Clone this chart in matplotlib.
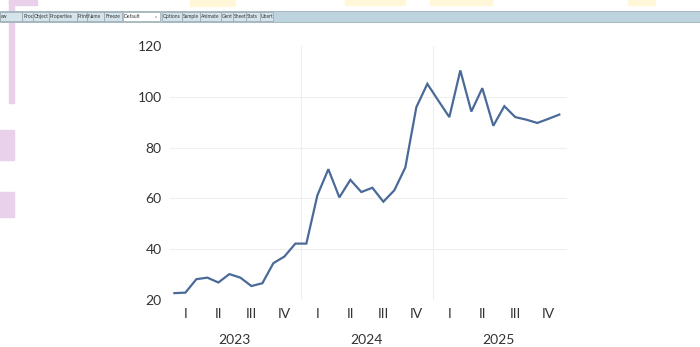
import matplotlib.pyplot as plt
import matplotlib.patches as mpatches
from matplotlib.transforms import blended_transform_factory

plt.rcParams['font.family'] = ['Lato', 'DejaVu Sans']

years = ['2023', '2024', '2025']
quarters = ['I', 'II', 'III', 'IV']
# monthly values, Jan 2023 .. Dec 2025
values = [22.7, 22.9, 28.2, 28.8, 26.9, 30.2, 28.8, 25.5, 26.6, 34.5, 37.1, 42.2,
          42.2, 61.2, 71.5, 60.4, 67.3, 62.5, 64.2, 58.7, 63.2, 72.2, 95.9, 105.1,
          98.5, 92.0, 110.4, 94.2, 103.4, 88.6, 96.3, 92.0, 91.0, 89.7, 91.3, 93.0]
yticks = [20, 40, 60, 80, 100, 120]

toolbar_buttons = ['ew', 'Proc', 'Object', 'Properties', 'Print', 'Name', 'Freeze',
                   'Default', 'Options', 'Sample', 'Animate', 'Gent', 'Sheet', 'Stats', 'Ubert']
button_x = [0, 22, 33, 49, 77, 87, 104, 123, 162, 182, 200, 221, 233, 246, 260]
button_w = [22, 11, 16, 28, 10, 17, 18, 37, 20, 18, 21, 12, 13, 14, 13]

W, H = 700, 347
fig = plt.figure(figsize=(W / 100, H / 100), dpi=100)
fig.patch.set_facecolor('white')

def px(x, y, w, h):
    return (x / W, 1 - (y + h) / H, w / W, h / H)

# screenshot artefacts: pink and yellow blotches, toolbar strip
for (x, y, w, h) in [(9, 0, 28, 5), (9, 0, 5, 103), (0, 130, 14, 30), (0, 192, 14, 25)]:
    fig.patches.append(mpatches.Rectangle(px(x, y, w, h)[:2], w / W, h / H,
                                          transform=fig.transFigure, color='#e9d1eb', zorder=0))
for (x, y, w, h) in [(190, 0, 45, 6), (345, 0, 60, 5), (430, 0, 62, 5), (628, 0, 27, 5)]:
    fig.patches.append(mpatches.Rectangle(px(x, y, w, h)[:2], w / W, h / H,
                                          transform=fig.transFigure, color='#fff7d8', zorder=0))
x0, y0, w0, h0 = px(0, 11, 700, 11)
fig.patches.append(mpatches.Rectangle((x0, y0), w0, h0, transform=fig.transFigure,
                                      facecolor='#bdd3dd', edgecolor='#9fb0ba', lw=0.6, zorder=1))
for name, bx, bw in zip(toolbar_buttons, button_x, button_w):
    fc = 'white' if name == 'Default' else '#d5e3ea'
    r = px(bx, 12, bw, 9)
    fig.patches.append(mpatches.Rectangle(r[:2], r[2], r[3], transform=fig.transFigure,
                                          facecolor=fc, edgecolor='#8a9aa4', lw=0.4, zorder=2))
    fig.text((bx + 1) / W, 1 - 16.5 / H, name, fontsize=3.6, color='#333333',
             va='center', ha='left', zorder=3)
fig.text(155 / W, 1 - 16.5 / H, 'v', fontsize=3.2, color='#666666', va='center', zorder=3)

ax = fig.add_axes([170 / W, 1 - 300 / H, (567 - 170) / W, (300 - 46) / H])
months = list(range(len(values)))
ax.plot(months, values, color='#4a6a97', lw=1.6, solid_joinstyle='miter', zorder=3)

ax.set_xlim(-0.4, 35.7)
ax.set_ylim(20, 120)
for v in yticks[1:-1]:
    ax.axhline(v, color='#efefef', lw=0.8, zorder=1)
for b in [11.5, 23.5]:
    ax.axvline(b, color='#efefef', lw=0.8, zorder=1)

ax.set_yticks(yticks)
ax.set_yticklabels([str(v) for v in yticks], fontsize=10, color='#333333')
ax.tick_params(axis='y', length=0, pad=6)
ax.set_xticks([])
for s in ax.spines.values():
    s.set_visible(False)

trans = blended_transform_factory(ax.transData, fig.transFigure)
for yi, year in enumerate(years):
    for qi, q in enumerate(quarters):
        ax.text(yi * 12 + qi * 3 + 1, 1 - 314 / H, q, transform=trans, ha='center',
                va='center', fontsize=10, color='#333333')
    ax.text(yi * 12 + 5.5, 1 - 340 / H, year, transform=trans, ha='center',
            va='center', fontsize=10, color='#333333')

fig.savefig('out.png', dpi=100)
